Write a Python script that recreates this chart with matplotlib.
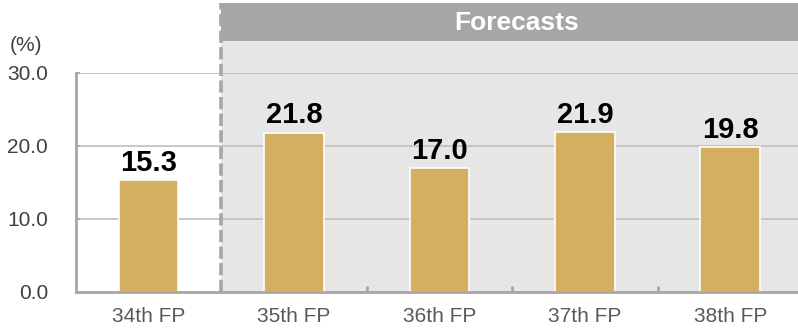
import matplotlib.pyplot as plt
from matplotlib.patches import Rectangle

plt.rcParams['font.family'] = ['Liberation Sans', 'DejaVu Sans']

periods = ['34th FP', '35th FP', '36th FP', '37th FP', '38th FP']
values = [15.3, 21.8, 17.0, 21.9, 19.8]
yticks = [0.0, 10.0, 20.0, 30.0]

bar_color = '#D4AF62'
spine_grey = '#A6A6A6'

fig = plt.figure(figsize=(7.98, 3.28), dpi=100)
ax = fig.add_axes([0.0952, 0.1098, 0.911, 0.668])
x = list(range(len(periods)))

# forecast region: light panel plus dark header band above the plot
ax.add_patch(Rectangle((0.5, 0), 4.5, 34.4, facecolor='#E6E6E6',
                       edgecolor='none', clip_on=False, zorder=0))
ax.add_patch(Rectangle((0.5, 34.4), 4.5, 5.2, facecolor=spine_grey,
                       edgecolor='none', clip_on=False, zorder=0))
ax.text(2.53, 36.8, 'Forecasts', color='white', fontsize=19,
        fontweight='bold', ha='center', va='center')

for yv in yticks[1:]:
    ax.axhline(yv, color='#BFBFBF', lw=1.2, zorder=1)

ax.plot([0.5, 0.5], [0, 39.6], color=spine_grey, lw=2.6,
        linestyle=(0, (3.4, 1.2)), clip_on=False, zorder=2)

ax.bar(x, values, width=0.41, color=bar_color, edgecolor='white',
       linewidth=1.2, zorder=3)
for xi, v in zip(x, values):
    ax.text(xi, v + 0.45, f'{v:.1f}', ha='center', va='bottom',
            fontsize=21, fontweight='bold', color='black', zorder=4)

ax.set_xlim(-0.5, 4.5)
ax.set_ylim(0, 30)
ax.set_xticks(x)
ax.set_xticklabels(periods, fontsize=15, color='#595959')
ax.set_xticks([1.5, 2.5, 3.5], minor=True)
ax.tick_params(axis='x', which='major', length=0, pad=11)
ax.tick_params(axis='x', which='minor', direction='in', length=4,
               width=2, color=spine_grey)
ax.set_yticks(yticks)
ax.set_yticklabels([f'{v:.1f}' for v in yticks], fontsize=15,
                   color='#404040')
ax.tick_params(axis='y', direction='in', length=3, width=1.2,
               color=spine_grey, pad=20)

for s in ['top', 'right']:
    ax.spines[s].set_visible(False)
for s in ['left', 'bottom']:
    ax.spines[s].set_color(spine_grey)
    ax.spines[s].set_linewidth(2)
    ax.spines[s].set_zorder(5)

fig.text(0.012, 0.862, '(%)', fontsize=15, color='#404040',
         ha='left', va='center')

fig.savefig('out.png', dpi=100)
